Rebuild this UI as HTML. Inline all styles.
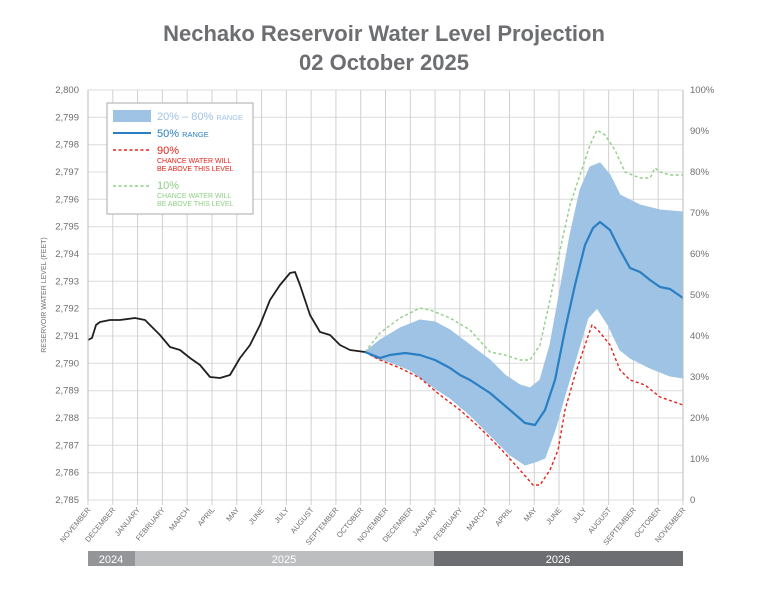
<!DOCTYPE html>
<html><head><meta charset="utf-8"><style>
html,body{margin:0;padding:0;background:#fff;}
svg{display:block;font-family:"Liberation Sans",sans-serif;}
</style></head><body>
<svg width="768" height="593" viewBox="0 0 768 593">
<text x="384" y="41" text-anchor="middle" font-size="22" font-weight="bold" fill="#6d6e71">Nechako Reservoir Water Level Projection</text>
<text x="384" y="70" text-anchor="middle" font-size="22" font-weight="bold" fill="#6d6e71">02 October 2025</text>
<g stroke="#dcdcdc" stroke-width="1">
<line x1="88" y1="90" x2="683" y2="90"/><line x1="88" y1="117.3" x2="683" y2="117.3"/><line x1="88" y1="144.7" x2="683" y2="144.7"/><line x1="88" y1="172" x2="683" y2="172"/><line x1="88" y1="199.3" x2="683" y2="199.3"/><line x1="88" y1="226.7" x2="683" y2="226.7"/><line x1="88" y1="254" x2="683" y2="254"/><line x1="88" y1="281.3" x2="683" y2="281.3"/><line x1="88" y1="308.7" x2="683" y2="308.7"/><line x1="88" y1="336" x2="683" y2="336"/><line x1="88" y1="363.3" x2="683" y2="363.3"/><line x1="88" y1="390.7" x2="683" y2="390.7"/><line x1="88" y1="418" x2="683" y2="418"/><line x1="88" y1="445.3" x2="683" y2="445.3"/><line x1="88" y1="472.7" x2="683" y2="472.7"/><line x1="88" y1="500" x2="683" y2="500"/>
</g>
<g stroke="#d0d0d0" stroke-width="1" id="vg"></g>
<g font-size="9.5" fill="#6d6e71" text-anchor="end" id="yl"></g>
<g font-size="9.5" fill="#6d6e71" id="yr"></g>
<g font-size="7.5" fill="#6d6e71" id="xl"></g>
<text transform="translate(46,295) rotate(-90)" text-anchor="middle" font-size="7" fill="#6d6e71">RESERVOIR WATER LEVEL (FEET)</text>
<path fill="#9fc3e4" stroke="#9fc3e4" stroke-linejoin="round" d="M365,352 L380,340 L400,328 L420,320 L435,322 L450,330 L470,345 L490,360 L505,375 L520,385 L530,388 L540,380 L550,345 L560,290 L570,235 L580,190 L590,167 L600,163 L610,175 L620,195 L640,205 L660,210 L683,212 L683,378 L670,376 L650,368 L630,358 L620,350 L608,325 L597,308 L588,318 L577,355 L565,395 L555,430 L545,458 L535,462 L525,465 L510,455 L490,435 L470,415 L450,398 L430,385 L410,370 L390,362 L375,358 Z"/>
<polyline fill="none" stroke="#8fcf85" stroke-width="1.4" stroke-dasharray="3,2.5" stroke-linejoin="round" points="365,352 380,333 400,318 420,308 430,310 450,318 470,330 490,352 505,355 520,360 530,360 540,345 550,300 560,250 570,205 580,175 590,145 597,130 605,135 615,150 625,172 640,178 650,178 655,168 660,172 670,175 683,175"/>
<polyline fill="none" stroke="#e2231a" stroke-width="1.4" stroke-dasharray="3,2.5" stroke-linejoin="round" points="365,352 380,360 400,368 420,378 440,395 460,410 480,428 500,448 520,470 533,485 540,485 550,470 558,450 565,410 575,375 585,345 592,325 598,330 610,345 620,370 630,380 645,385 660,397 683,405"/>
<polyline fill="none" stroke="#2a7fc4" stroke-width="2.2" stroke-linejoin="round" points="365,352 380,358 390,355 405,353 420,355 435,360 450,368 460,375 470,380 490,393 510,410 525,423 535,425 545,410 555,380 565,330 575,285 585,245 593,228 600,222 610,230 620,250 630,268 640,272 650,280 660,287 670,289 683,298"/>
<polyline fill="none" stroke="#231f20" stroke-width="1.8" stroke-linejoin="round" points="88,340 92,338 96,325 100,322 110,320 120,320 135,318 145,320 150,325 160,335 170,347 180,350 190,358 200,365 210,377 220,378 230,375 240,358 250,345 260,325 270,300 280,285 290,273 295,272 300,285 310,315 320,332 330,335 340,345 350,350 365,352"/>
<line x1="88" y1="90" x2="88" y2="500" stroke="#bbb"/><line x1="683" y1="90" x2="683" y2="500" stroke="#bbb"/>
<rect x="107" y="103" width="146" height="111" fill="#fff" stroke="#aaa"/>
<rect x="113" y="110" width="38" height="12" fill="#9fc3e4"/>
<text x="157" y="120" font-size="11" fill="#9fc3e4">20% – 80% <tspan font-size="7.5">RANGE</tspan></text>
<line x1="113" y1="133" x2="151" y2="133" stroke="#2a7fc4" stroke-width="2"/>
<text x="157" y="137" font-size="11" fill="#2a7fc4">50% <tspan font-size="7.5">RANGE</tspan></text>
<line x1="113" y1="150" x2="151" y2="150" stroke="#e2231a" stroke-width="1.4" stroke-dasharray="3,2.5"/>
<text x="157" y="154" font-size="11" fill="#e2231a">90%</text>
<text x="157" y="163" font-size="7" fill="#e2231a">CHANCE WATER WILL</text>
<text x="157" y="171" font-size="7" fill="#e2231a">BE ABOVE THIS LEVEL</text>
<line x1="113" y1="186" x2="151" y2="186" stroke="#8fcf85" stroke-width="1.4" stroke-dasharray="3,2.5"/>
<text x="157" y="189" font-size="11" fill="#8fcf85">10%</text>
<text x="157" y="198" font-size="7" fill="#8fcf85">CHANCE WATER WILL</text>
<text x="157" y="206" font-size="7" fill="#8fcf85">BE ABOVE THIS LEVEL</text>
<rect x="88" y="551" width="47" height="15" fill="#939598"/>
<rect x="135" y="551" width="299" height="15" fill="#bcbec0"/>
<rect x="434" y="551" width="249" height="15" fill="#6d6e71"/>
<text x="111" y="563" text-anchor="middle" font-size="11" fill="#fff">2024</text>
<text x="284" y="563" text-anchor="middle" font-size="11" fill="#fff">2025</text>
<text x="558" y="563" text-anchor="middle" font-size="11" fill="#fff">2026</text>
<script>
var ns="http://www.w3.org/2000/svg";
function el(p,t,a,txt){var e=document.createElementNS(ns,t);for(var k in a)e.setAttribute(k,a[k]);if(txt)e.textContent=txt;document.getElementById(p).appendChild(e);}
var m=["NOVEMBER","DECEMBER","JANUARY","FEBRUARY","MARCH","APRIL","MAY","JUNE","JULY","AUGUST","SEPTEMBER","OCTOBER"];
for(var i=0;i<=24;i++){var x=88+i*595/24;el("vg","line",{x1:x,y1:90,x2:x,y2:505});
el("xl","text",{x:x+3,y:510,"text-anchor":"end",transform:"rotate(-50 "+(x+3)+" 510)"},m[i%12]);}
for(var j=0;j<=15;j++){var y=500-j*410/15;el("yl","text",{x:79,y:y+3},"2,"+(785+j));}
for(var k=0;k<=10;k++){var y=500-k*41;el("yr","text",{x:690,y:y+3},k==0?"0":(k*10)+"%");}
</script>
</svg>
</body></html>
